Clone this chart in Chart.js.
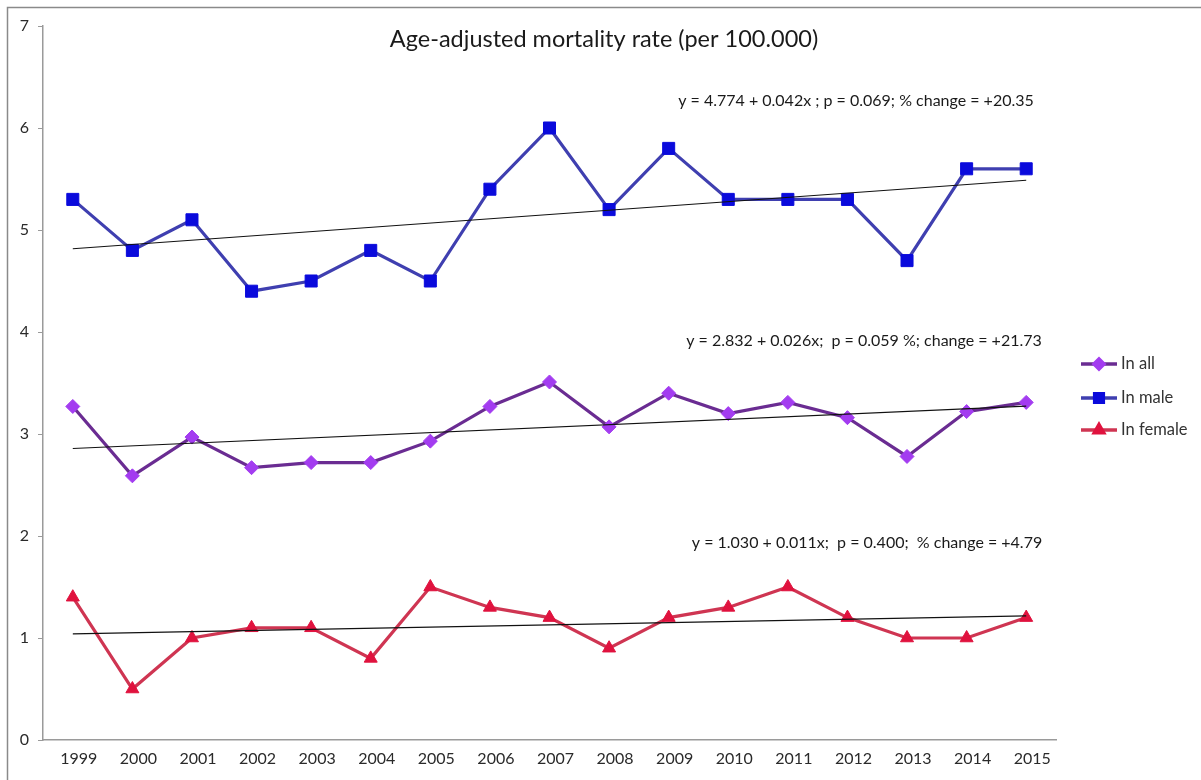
<!DOCTYPE html>
<html>
<head>
<meta charset="utf-8">
<script src="https://cdn.jsdelivr.net/npm/chart.js@4/dist/chart.umd.min.js"></script>
<style>
  html, body { margin: 0; padding: 0; background: #fff; }
  #wrap { width: 1201px; height: 780px; position: relative; }
</style>
</head>
<body>
<div id="wrap"><canvas id="c" width="1201" height="780"></canvas></div>
<script>
// Years on the category axis
const years = ['1999','2000','2001','2002','2003','2004','2005','2006','2007',
               '2008','2009','2010','2011','2012','2013','2014','2015'];

// Age-adjusted mortality rate per 100.000
const inAll    = [3.27, 2.59, 2.97, 2.67, 2.72, 2.72, 2.93, 3.27, 3.51, 3.07, 3.40, 3.20, 3.31, 3.16, 2.78, 3.22, 3.31];
const inMale   = [5.3, 4.8, 5.1, 4.4, 4.5, 4.8, 4.5, 5.4, 6.0, 5.2, 5.8, 5.3, 5.3, 5.3, 4.7, 5.6, 5.6];
const inFemale = [1.4, 0.5, 1.0, 1.1, 1.1, 0.8, 1.5, 1.3, 1.2, 0.9, 1.2, 1.3, 1.5, 1.2, 1.0, 1.0, 1.2];

// Linear trend y = a + b*x (x = 1 for 1999), order: all, male, female
const trendIntercept = [2.832, 4.774, 1.030];
const trendSlope     = [0.026, 0.042, 0.011];
const trendText = [
  'y = 2.832 + 0.026x;  p = 0.059 %; change = +21.73',
  'y = 4.774 + 0.042x ; p = 0.069; % change = +20.35',
  'y = 1.030 + 0.011x;  p = 0.400;  % change = +4.79'
];

const seriesNames = ['In all', 'In male', 'In female'];
const yTickValues = [0, 1, 2, 3, 4, 5, 6, 7];

const FONT = 'Lato, "Open Sans", sans-serif';

// Two-point trend line spanning the first and last year
function trendLine(i) {
  const pts = years.map(() => null);
  pts[0] = trendIntercept[i] + trendSlope[i] * 1;
  pts[years.length - 1] = trendIntercept[i] + trendSlope[i] * years.length;
  return pts;
}

const styles = [
  { line: '#6a2c92', fill: '#a33cf0', point: 'rectRot',  radius: 7 },
  { line: '#3f3fb0', fill: '#0a0adc', point: 'rect',     radius: 8.5 },
  { line: '#cf3552', fill: '#e0123e', point: 'triangle', radius: 7.5 }
];
const seriesData = [inAll, inMale, inFemale];

const datasets = [];
seriesData.forEach((d, i) => {
  datasets.push({
    label: seriesNames[i],
    data: d,
    borderColor: styles[i].line,
    borderWidth: 3.2,
    backgroundColor: styles[i].fill,
    pointBackgroundColor: styles[i].fill,
    pointBorderColor: styles[i].fill,
    pointBorderWidth: 1,
    pointStyle: styles[i].point,
    pointRadius: styles[i].radius,
    tension: 0,
    order: 2
  });
});
seriesData.forEach((d, i) => {
  datasets.push({
    label: 'trend ' + seriesNames[i],
    data: trendLine(i),
    borderColor: '#111',
    borderWidth: 1.2,
    pointRadius: 0,
    spanGaps: true,
    tension: 0,
    order: 1
  });
});

// Frame, title, regression notes and legend
const decorations = {
  id: 'decorations',
  afterDraw(chart) {
    const ctx = chart.ctx;
    ctx.save();
    // outer frame
    ctx.strokeStyle = '#8a8a8a';
    ctx.lineWidth = 1.5;
    ctx.beginPath();
    ctx.moveTo(7.5, 780);
    ctx.lineTo(7.5, 7.5);
    ctx.lineTo(1201, 7.5);
    ctx.stroke();

    // title
    ctx.fillStyle = '#1a1a1a';
    ctx.font = '23.5px ' + FONT;
    ctx.textAlign = 'center';
    ctx.textBaseline = 'middle';
    ctx.fillText('Age-adjusted mortality rate (per 100.000)', 604, 39);

    // regression notes
    ctx.font = '16px ' + FONT;
    ctx.fillStyle = '#1a1a1a';
    const notePos = [[864, 341], [856, 101], [867, 543]];
    trendText.forEach((t, i) => ctx.fillText(t, notePos[i][0], notePos[i][1]));

    // legend
    const legY = [364, 398, 430];
    ctx.textAlign = 'left';
    ctx.font = '16.5px ' + FONT;
    styles.forEach((s, i) => {
      const y = legY[i];
      ctx.strokeStyle = s.line;
      ctx.lineWidth = 3.5;
      ctx.beginPath();
      ctx.moveTo(1081, y);
      ctx.lineTo(1117, y);
      ctx.stroke();
      ctx.fillStyle = s.fill;
      ctx.strokeStyle = s.fill;
      Chart.helpers.drawPoint(ctx, { pointStyle: s.point, radius: s.radius * 0.72, rotation: 0, borderWidth: 1 }, 1099, y);
      ctx.fillStyle = '#333';
      ctx.fillText(seriesNames[i], 1121, y);
    });
    ctx.restore();
  }
};

new Chart(document.getElementById('c'), {
  type: 'line',
  data: { labels: years, datasets },
  options: {
    responsive: false,
    animation: false,
    layout: { padding: { left: 0, top: 26, right: 145, bottom: 0 } },
    plugins: {
      legend: { display: false },
      title: { display: false },
      tooltip: { enabled: false }
    },
    scales: {
      x: {
        type: 'category',
        offset: true,
        grid: { display: false, drawTicks: false },
        border: { display: true, color: '#9a9a9a', width: 1.5 },
        ticks: {
          color: '#2a2a2a',
          font: { family: FONT, size: 16 },
          padding: 9,
          labelOffset: 6,
          maxRotation: 0,
          autoSkip: false
        },
        afterFit(scale) { scale.height = 40; }
      },
      y: {
        min: 0,
        max: 7,
        afterBuildTicks(scale) { scale.ticks = yTickValues.map(v => ({ value: v })); },
        grid: { drawOnChartArea: false, drawTicks: true, tickLength: 5, color: '#9a9a9a' },
        border: { display: true, color: '#9a9a9a', width: 1.5 },
        ticks: {
          color: '#2a2a2a',
          font: { family: FONT, size: 16 },
          padding: 9
        },
        afterFit(scale) { scale.width = 43; }
      }
    }
  },
  plugins: [decorations]
});
</script>
</body>
</html>
